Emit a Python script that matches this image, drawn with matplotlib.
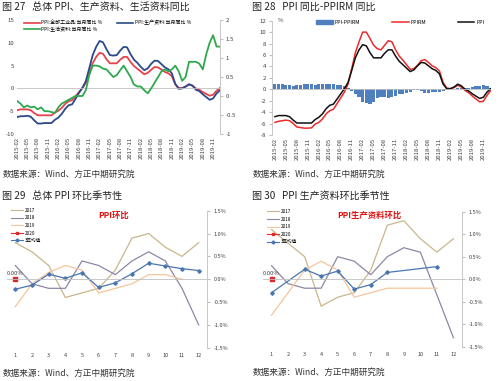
import matplotlib
matplotlib.use("Agg")
import matplotlib.pyplot as plt
import numpy as np
import pandas as pd
from matplotlib.lines import Line2D
from matplotlib.patches import Patch

plt.rcParams['font.family'] = ['Noto Sans CJK SC', 'DejaVu Sans']
plt.rcParams['axes.unicode_minus'] = False

# monthly series, 2015-02 .. 2020-01
months = pd.date_range("2015-02-01", "2020-01-01", freq="MS")
ppi_all = [-4.8, -4.6, -4.6, -4.6, -4.8, -5.4, -5.9, -5.9, -5.9, -5.9, -5.9,
           -5.3, -4.9, -4.3, -3.4, -2.8, -2.6, -1.7, -0.8, 0.1, 1.2, 3.3, 5.5,
           6.9, 7.8, 7.6, 6.4, 5.5, 5.5, 5.5, 6.3, 6.9, 6.9, 5.8, 4.9,
           4.3, 3.7, 3.1, 3.4, 4.1, 4.7, 4.6, 4.1, 3.6, 3.3, 2.7, 0.9,
           0.1, 0.1, 0.4, 0.9, 0.6, 0.0, -0.3, -0.8, -1.2, -1.6, -1.4, -0.5,
           0.1]
ppi_prod = [-6.3, -6.1, -6.1, -6.0, -6.2, -7.0, -7.7, -7.7, -7.6, -7.6, -7.6,
            -6.9, -6.4, -5.6, -4.5, -3.7, -3.5, -2.3, -1.0, 0.1, 1.6, 4.4, 7.3,
            9.1, 10.4, 10.1, 8.6, 7.3, 7.2, 7.3, 8.3, 9.1, 9.0, 7.5, 6.3,
            5.6, 4.7, 4.0, 4.4, 5.4, 6.1, 6.0, 5.3, 4.6, 4.2, 3.3, 1.0,
            -0.1, 0.0, 0.4, 0.9, 0.6, -0.3, -0.6, -1.3, -1.9, -2.5, -2.2, -1.1,
            -0.4]
ppi_cons = [-0.13, -0.2, -0.3, -0.25, -0.3, -0.28, -0.35, -0.3, -0.4, -0.4, -0.42,
            -0.45, -0.3, -0.2, -0.15, -0.1, -0.05, 0.0, 0.0, 0.0, 0.15, 0.55, 0.8,
            0.8, 0.78, 0.72, 0.7, 0.6, 0.5, 0.55, 0.68, 0.8, 0.65, 0.5, 0.3,
            0.25, 0.25, 0.15, 0.07, 0.2, 0.35, 0.5, 0.65, 0.7, 0.65, 0.7, 0.8,
            0.65, 0.4, 0.5, 0.9, 0.9, 0.9, 0.85, 0.7, 1.1, 1.4, 1.6, 1.3,
            1.3]
ppirm = [-5.8, -5.6, -5.5, -5.4, -5.5, -6.0, -6.6, -6.7, -6.8, -6.8, -6.75,
         -6.1, -5.8, -5.2, -4.3, -3.75, -3.5, -2.5, -1.5, -0.5, 0.9, 3.6, 6.4,
         8.3, 10.0, 10.0, 8.9, 7.7, 7.1, 6.9, 7.7, 8.5, 8.3, 6.9, 5.8,
         5.1, 4.3, 3.5, 3.6, 4.2, 5.0, 5.2, 4.7, 4.1, 3.8, 3.2, 1.2,
         0.2, 0.1, 0.3, 0.7, 0.4, -0.2, -0.6, -1.2, -1.7, -2.2, -2.1, -1.1,
         -0.2]
ppi_minus_rm = [1.0, 1.0, 0.9, 0.8, 0.7, 0.6, 0.7, 0.8, 0.9, 0.9, 0.85,
                0.8, 0.9, 0.9, 0.9, 0.95, 0.9, 0.8, 0.7, 0.6, 0.3, -0.3, -0.9,
                -1.4, -2.2, -2.4, -2.5, -2.2, -1.6, -1.4, -1.4, -1.6, -1.4, -1.1, -0.9,
                -0.8, -0.6, -0.4, -0.2, -0.1, -0.3, -0.6, -0.6, -0.5, -0.5, -0.5, -0.3,
                -0.1, 0.0, 0.1, 0.2, 0.2, 0.2, 0.3, 0.4, 0.5, 0.6, 0.7, 0.6,
                0.3]

# month-on-month seasonality (%)
mon = list(range(1, 13))
mom_2017 = [0.8, 0.6, 0.3, -0.4, -0.3, -0.2, 0.2, 0.9, 1.0, 0.7, 0.5, 0.8]
mom_2018 = [0.3, -0.1, -0.2, -0.2, 0.4, 0.3, 0.1, 0.4, 0.6, 0.4, -0.2, -1.0]
mom_2019 = [-0.6, -0.1, 0.15, 0.3, 0.2, -0.3, -0.2, -0.1, 0.1, 0.1, 0.0]
mom_avg = [-0.22, -0.13, 0.11, 0.02, 0.14, -0.18, -0.08, 0.12, 0.35, 0.29, 0.23, 0.19]
mom_2020 = [0.0]

prod_2017 = [1.1, 0.8, 0.5, -0.6, -0.4, -0.3, 0.2, 1.2, 1.3, 0.9, 0.6, 0.9]
prod_2018 = [0.3, -0.1, -0.2, -0.2, 0.5, 0.4, 0.1, 0.5, 0.7, 0.6, -0.35, -1.3]
prod_2019 = [-0.8, -0.3, 0.2, 0.4, 0.2, -0.4, -0.3, -0.2, -0.2, -0.2, -0.2]
prod_avg_mon = [1, 3, 4, 5, 6, 7, 8, 11]
prod_avg = [-0.3, 0.22, 0.07, 0.18, -0.22, -0.12, 0.15, 0.28]
prod_2020 = [0.0]

titles = ["图 27   总体 PPI、生产资料、生活资料同比", "图 28   PPI 同比-PPIRM 同比",
          "图 29   总体 PPI 环比季节性", "图 30   PPI 生产资料环比季节性"]
source = "数据来源：Wind、方正中期研究院"

W, H = 500, 381
fig = plt.figure(figsize=(5, 3.81), dpi=100)


def box(x0, y0, x1, y1):
    return [x0 / W, 1 - y1 / H, (x1 - x0) / W, (y1 - y0) / H]


def ftext(x, y, s, **kw):
    fig.text(x / W, 1 - y / H, s, va="center", **kw)


grey = "#404040"
x = np.arange(len(months))
date_labels = [d.strftime("%Y-%m") for d in months][::3]

# ---- fig 27
ax1 = fig.add_axes(box(17, 20, 220, 134))
ax1.plot(x, ppi_all, color="#e8424a", lw=1.3)
ax1.plot(x, ppi_prod, color="#2b4a8a", lw=1.3)
ax1.axhline(0, color="#bfbfbf", lw=0.6)
ax1.set_ylim(-10, 15)
ax1.set_yticks(range(-10, 16, 5))
ax1.set_xlim(0, 59)
ax1.set_xticks(x[::3])
ax1.set_xticklabels(date_labels, rotation=90)
ax1b = ax1.twinx()
ax1b.plot(x, ppi_cons, color="#2ea84e", lw=1.3)
ax1b.set_ylim(-1, 2)
ax1b.set_yticks([-1, -0.5, 0, 0.5, 1, 1.5, 2])
ax1b.set_yticklabels(["-1", "-0.5", "0", "0.5", "1", "1.5", "2"])
for a in (ax1, ax1b):
    for s in a.spines.values():
        s.set_visible(False)
    a.tick_params(labelsize=4.3, colors=grey, length=0, pad=2)
ax1b.spines["right"].set_visible(True)
ax1b.spines["right"].set_color("#bfbfbf")
ax1b.spines["right"].set_linewidth(0.6)
ax1b.tick_params(axis="y", length=2, color="#bfbfbf", pad=2)
# ncol=2 fills column-wise: order so rows read red/blue then green
h1 = [Line2D([], [], color="#e8424a", lw=1.2), Line2D([], [], color="#2ea84e", lw=1.2),
      Line2D([], [], color="#2b4a8a", lw=1.2)]
ax1.legend(h1, ["PPI:全部工业品:当月同比 %", "PPI:生活资料:当月同比 %", "PPI:生产资料:当月同比 %"],
           ncol=2, fontsize=3.6, frameon=False, loc="upper left", bbox_to_anchor=(0.01, 1.04),
           handlelength=3.2, columnspacing=3, labelspacing=0.3, handletextpad=0.3)

# ---- fig 28
ax2 = fig.add_axes(box(272, 20.7, 491, 135))
ax2.bar(x, ppi_minus_rm, width=0.85, color="#4f7fbf")
ax2.plot(x, ppirm, color="#ee2a2a", lw=1.1)
ax2.plot(x, ppi_all, color="#111111", lw=1.1)
ax2.axhline(0, color="#bfbfbf", lw=0.6)
ax2.set_ylim(-8, 12)
ax2.set_yticks(range(-8, 13, 2))
ax2.set_xlim(-0.8, 59.1)
ax2.set_xticks(x[::3])
ax2.set_xticklabels(date_labels, rotation=90)
for s in ("top", "right", "bottom"):
    ax2.spines[s].set_visible(False)
ax2.spines["left"].set_color("#bfbfbf")
ax2.spines["left"].set_linewidth(0.6)
ax2.tick_params(labelsize=4.3, colors=grey, length=0, pad=2)
ax2.tick_params(axis="y", length=2, color="#bfbfbf")
ftext(278, 21, "%", fontsize=4.3, color=grey)
h2 = [Patch(color="#4f7fbf"), Line2D([], [], color="#ee2a2a", lw=1.1),
      Line2D([], [], color="#111111", lw=1.1)]
ax2.legend(h2, ["PPI-PPIRM", "PPIRM", "PPI"], ncol=3, fontsize=3.8, frameon=False,
           loc="upper left", bbox_to_anchor=(0.18, 1.05), handlelength=3.2,
           handleheight=0.6, columnspacing=6, handletextpad=0.3)


# ---- fig 29 / 30
def seasonal(rect, y17, y18, y19, avg_x, avg_y, y20, note, note_x):
    ax = fig.add_axes(rect)
    ax.plot(mon, y17, color="#c9b68c", lw=0.9)
    ax.plot(mon, y18, color="#8d87a6", lw=0.9)
    ax.plot(mon[:len(y19)], y19, color="#f6c59b", lw=0.9)
    ax.plot(avg_x, avg_y, color="#4a76b0", lw=0.9, marker="D", ms=1.8)
    ax.plot(mon[:len(y20)], y20, color="#e02828", lw=0.9, marker="s", ms=2.2)
    ax.axhline(0, color="#bfbfbf", lw=0.6)
    ax.annotate("0.00%", (1, y20[0]), xytext=(-6, 3), textcoords="offset points",
                fontsize=4.2, color=grey)
    ax.set_xlim(0.5, 12.5)
    ax.set_ylim(-1.5, 1.5)
    ax.set_xticks(mon)
    ax.set_yticks(np.arange(-1.5, 1.6, 0.5))
    ax.set_yticklabels(["%.1f%%" % v for v in np.arange(-1.5, 1.6, 0.5)])
    ax.yaxis.tick_right()
    for s in ("top", "left", "bottom"):
        ax.spines[s].set_visible(False)
    ax.spines["right"].set_color("#bfbfbf")
    ax.spines["right"].set_linewidth(0.6)
    ax.tick_params(labelsize=4.0, colors=grey, length=0, pad=4)
    ax.tick_params(axis="y", length=2, color="#bfbfbf", pad=3)
    hs = [Line2D([], [], color="#c9b68c", lw=0.8), Line2D([], [], color="#8d87a6", lw=0.8),
          Line2D([], [], color="#f6c59b", lw=0.8),
          Line2D([], [], color="#e02828", lw=0.8, marker="s", ms=2),
          Line2D([], [], color="#4a76b0", lw=0.8, marker="D", ms=1.6)]
    ax.legend(hs, ["2017", "2018", "2019", "2020", "3年均值"], fontsize=3.3, frameon=False,
              loc="upper left", bbox_to_anchor=(0.0, 1.05), handlelength=2.6,
              labelspacing=0.55, handletextpad=0.3)
    ftext(note_x, 215, note, fontsize=6, color="#e01010", fontweight="bold")
    return ax


seasonal(box(7, 210.7, 207, 347.7), mom_2017, mom_2018, mom_2019, mon, mom_avg,
         mom_2020, "PPI环比", 98)
seasonal(box(263.3, 211.7, 461.7, 346.7), prod_2017, prod_2018, prod_2019,
         prod_avg_mon, prod_avg, prod_2020, "PPI生产资料环比", 337)

# titles and source notes
for (tx, ty), t in zip([(2, 7), (252, 7), (2, 196), (252, 196)], titles):
    ftext(tx, ty, t, fontsize=7.2, color="#222222")
for sx, sy in [(3, 174), (253, 174), (3, 373), (253, 372)]:
    ftext(sx, sy, source, fontsize=6.2, color="#333333", style="italic")

fig.savefig("out.png", dpi=100)
